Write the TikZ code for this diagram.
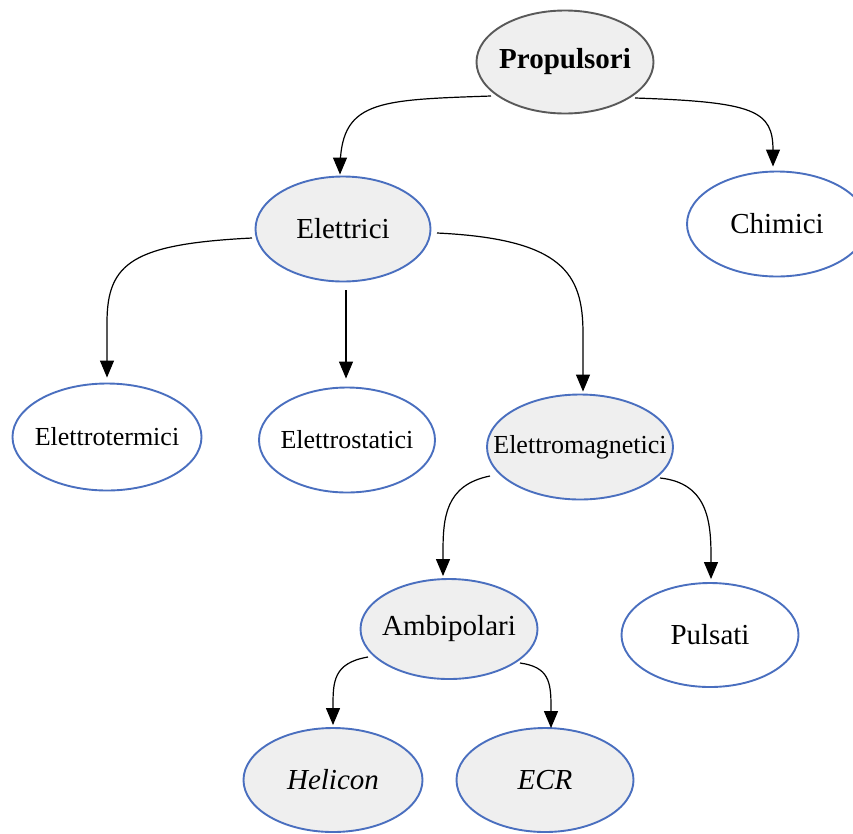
\documentclass[tikz,border=0pt]{standalone}
\usepackage{fontspec}
\setmainfont{Liberation Serif}
\usetikzlibrary{shapes.geometric,arrows.meta,calc}
\definecolor{edgeblue}{HTML}{4A6FBF}
\definecolor{lgrey}{HTML}{EFEFEF}
\newcommand{\zb}[1]{\makebox[0pt]{#1}}
\tikzset{
  oval/.style={ellipse, draw=edgeblue, line width=1.9pt, minimum width=177pt, minimum height=104pt, inner sep=0pt, font=\fontsize{29}{30}\selectfont},
  smalltext/.style={font=\fontsize{26}{28}\selectfont},
  ovalgrey/.style={oval, fill=lgrey},
  ovalwhite/.style={oval, fill=white},
  conn/.style={line width=1.2pt, -{Triangle[width=14pt,length=17pt]}}
}
\begin{document}
\begin{tikzpicture}[x=1pt,y=-1pt]
\useasboundingbox (0,0) rectangle (853,833);
\begin{scope}
\clip (0,0) rectangle (853,833);
\node[ovalgrey, draw=black!65, minimum width=177pt, minimum height=103pt, font=\fontsize{29}{30}\selectfont\bfseries] (prop) at (565,62) {\zb{Propulsori}};
\node[ovalgrey, minimum width=175pt, minimum height=105pt] (elet) at (343,229) {\zb{Elettrici}};
\node[ovalwhite, minimum width=180pt, minimum height=105pt] (chim) at (777,224) {\zb{Chimici}};
\node[ovalwhite, smalltext, minimum width=189pt, minimum height=107pt] (term) at (107,437) {\zb{Elettrotermici}};
\node[ovalwhite, smalltext, minimum width=176pt, minimum height=105pt] (stat) at (347,440) {\zb{Elettrostatici}};
\node[ovalgrey, smalltext, minimum width=186pt, minimum height=105pt] (magn) at (580,447) {\zb{Elettromagnetici}};
\node[ovalgrey, minimum width=177pt, minimum height=100pt] (ambi) at (449,629) {\zb{Ambipolari}};
\node[ovalwhite, minimum width=177pt, minimum height=104pt] (puls) at (710,635) {\zb{Pulsati}};
\node[ovalgrey, minimum width=179pt, minimum height=104pt, font=\fontsize{29}{30}\selectfont\itshape] (heli) at (333,780) {\zb{Helicon}};
\node[ovalgrey, minimum width=177pt, minimum height=104pt, font=\fontsize{29}{30}\selectfont\itshape] (ecr) at (545,780) {\zb{ECR}};
\end{scope}
% connectors
\draw[conn] ($(prop)+(-74,34)$) .. controls ($(prop)+(-190,38)$) and ($(elet.north)+(-3,-75)$) .. ($(elet.north)+(-3,-5)$) -- ($(elet.north)+(-3,-1)$);
\draw[conn] ($(prop)+(70,36)$) .. controls ($(prop)+(190,40)$) and ($(chim.north)+(-4,-60)$) .. ($(chim.north)+(-4,-20)$) -- ($(chim.north)+(-4,-4)$);
\draw[conn] ($(elet)+(-91,9)$) .. controls ($(elet)+(-210,15)$) and ($(term.north)+(0,-120)$) .. ($(term.north)+(0,-60)$) -- ($(term.north)+(0,-5)$);
\draw[conn] ($(elet)+(3,61)$) -- ($(stat.north)+(-1,-8)$);
\draw[conn] ($(elet)+(94,4)$) .. controls ($(elet)+(220,10)$) and ($(magn.north)+(3,-120)$) .. ($(magn.north)+(3,-60)$) -- ($(magn.north)+(3,-2)$);
\draw[conn] ($(magn)+(-90,29)$) .. controls ($(magn)+(-135,38)$) and ($(ambi.north)+(-6,-60)$) .. ($(ambi.north)+(-6,-25)$) -- ($(ambi.north)+(-6,-2)$);
\draw[conn] ($(magn)+(80,31)$) .. controls ($(magn)+(128,36)$) and ($(puls.north)+(1,-60)$) .. ($(puls.north)+(1,-25)$) -- ($(puls.north)+(1,-3)$);
\draw[conn] ($(ambi)+(-81,28)$) .. controls ($(ambi)+(-116,34)$) and ($(heli.north)+(0,-45)$) .. ($(heli.north)+(0,-20)$) -- ($(heli.north)+(0,-2)$);
\draw[conn] ($(ambi)+(71,34)$) .. controls ($(ambi)+(100,38)$) and ($(ecr.north)+(6,-45)$) .. ($(ecr.north)+(6,-20)$) -- ($(ecr.north)+(6,1)$);
\end{tikzpicture}
\end{document}
